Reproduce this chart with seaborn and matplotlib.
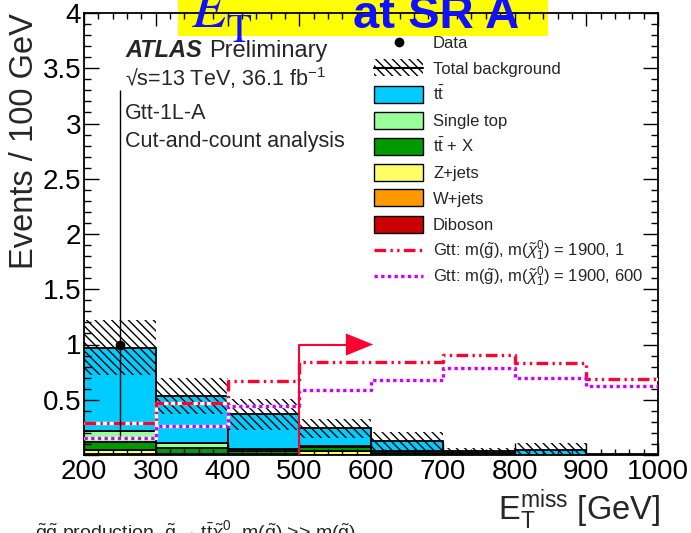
import numpy as np
import pandas as pd
import matplotlib
matplotlib.use("Agg")
import matplotlib.pyplot as plt
import seaborn as sns
from matplotlib.patches import Rectangle
from matplotlib.lines import Line2D
from matplotlib.ticker import MultipleLocator, FuncFormatter

# ---------------- data ----------------
bin_edges = [200, 300, 400, 500, 600, 700, 800, 900, 1000]
process_names = ["ttbar", "Single top", "ttX", "Z+jets", "W+jets", "Diboson"]  # top -> bottom of stack
process_labels = [r"t$\bar{\mathrm{t}}$", "Single top", r"t$\bar{\mathrm{t}}$ + X", "Z+jets", "W+jets", "Diboson"]
process_colors = ["#00CCFF", "#99FF99", "#009900", "#FFFF66", "#FF9900", "#CC0000"]

ttbar      = [0.750, 0.423, 0.320, 0.160, 0.087, 0.025, 0.042, 0.004]
single_top = [0.100, 0.045, 0.015, 0.005, 0.025, 0.005, 0.002, 0.000]
ttX        = [0.075, 0.056, 0.025, 0.039, 0.015, 0.010, 0.001, 0.001]
zjets      = [0.040, 0.010, 0.010, 0.036, 0.000, 0.000, 0.000, 0.000]
wjets      = [0.005, 0.000, 0.000, 0.000, 0.000, 0.000, 0.000, 0.000]
diboson    = [0.000, 0.000, 0.000, 0.000, 0.000, 0.000, 0.000, 0.000]
bkg_unc    = [0.25, 0.16, 0.14, 0.085, 0.083, 0.02, 0.06, 0.005]

sig_1900_1   = [0.29, 0.47, 0.67, 0.84, 0.84, 0.905, 0.83, 0.69]
sig_1900_600 = [0.15, 0.265, 0.44, 0.59, 0.68, 0.785, 0.70, 0.62]
sig_labels = [r"Gtt: m($\tilde{\mathrm{g}}$), m($\tilde{\chi}^{0}_{1}$) = 1900, 1",
              r"Gtt: m($\tilde{\mathrm{g}}$), m($\tilde{\chi}^{0}_{1}$) = 1900, 600"]

data_x = [250]
data_y = [1.0]
data_err_lo = [0.827]
data_err_hi = [2.30]

cut_value = 500
arrow_height = 1.0

# ---------------- style ----------------
sns.set_theme(style="ticks")
FONT = ["Liberation Sans", "DejaVu Sans"]
plt.rcParams["font.family"] = FONT
plt.rcParams["mathtext.fontset"] = "custom"
plt.rcParams["mathtext.rm"] = "Liberation Sans"
plt.rcParams["mathtext.it"] = "Liberation Sans:italic"
plt.rcParams["mathtext.bf"] = "Liberation Sans:bold"
plt.rcParams["mathtext.sf"] = "Liberation Sans"
plt.rcParams["hatch.linewidth"] = 1.0
HATCH = r"\\\\"
RED = "#FF0033"
MAG = "#CC00FF"
RED_LS = (0, (3.5, 1.3, 0.7, 1.3, 0.7, 1.3))
MAG_LS = (0, (1.0, 1.0))

W, H = 691, 533
fig = plt.figure(figsize=(W / 100, H / 100), dpi=100)
ax = fig.add_axes([84 / W, 1 - 455 / H, (658 - 84) / W, (455 - 13) / H])
ax.patch.set_alpha(0)


def fx(px):
    return px / W


def fy(py):
    return 1 - py / H


# yellow title box (behind axes frame)
fig.patches.append(Rectangle((fx(178), fy(36)), (548 - 178) / W, 36 / H,
                             transform=fig.transFigure, facecolor="#FFFF00",
                             edgecolor="none", zorder=-5))

# ---------------- stacked background ----------------
edges = np.array(bin_edges, dtype=float)
centers = 0.5 * (edges[:-1] + edges[1:])
comp = {"ttbar": ttbar, "Single top": single_top, "ttX": ttX,
        "Z+jets": zjets, "W+jets": wjets, "Diboson": diboson}
rows = []
for p in process_names:
    for c, v in zip(centers, comp[p]):
        rows.append({"x": c, "w": v, "process": p})
df = pd.DataFrame(rows)
sns.histplot(data=df, x="x", weights="w", hue="process", hue_order=process_names,
             multiple="stack", bins=bin_edges, palette=dict(zip(process_names, process_colors)),
             edgecolor="black", linewidth=1.3, alpha=1, legend=False, ax=ax, zorder=1)

total = np.sum([comp[p] for p in process_names], axis=0)
unc = np.array(bkg_unc)
ax.bar(centers, 2 * unc, bottom=total - unc, width=np.diff(edges), align="center",
       facecolor="none", edgecolor="black", hatch=HATCH, linewidth=0, zorder=3)

# ---------------- signals ----------------
sig_x = list(edges)
for vals, col, ls in [(sig_1900_1, RED, RED_LS), (sig_1900_600, MAG, MAG_LS)]:
    yv = list(vals) + [vals[-1]]
    sns.lineplot(x=sig_x, y=yv, drawstyle="steps-post", color="white", linewidth=2.4,
                 ax=ax, zorder=4)
    sns.lineplot(x=sig_x, y=yv, drawstyle="steps-post", color=col, linewidth=2.4,
                 linestyle=ls, ax=ax, zorder=5)

# ---------------- data ----------------
ax.errorbar(data_x, data_y, yerr=[data_err_lo, data_err_hi], fmt="o", color="black",
            ms=6, elinewidth=1.0, capsize=0, zorder=6)

# ---------------- cut arrow ----------------
ax.plot([cut_value, cut_value, cut_value + 65], [0, arrow_height, arrow_height],
        color=RED, lw=1.5, zorder=6)
ax.fill([cut_value + 65, cut_value + 103, cut_value + 65],
        [arrow_height + 0.1, arrow_height, arrow_height - 0.1],
        color=RED, lw=0, zorder=6)

# ---------------- axes ----------------
ax.set_xlim(200, 1000)
ax.set_ylim(0, 4)
ax.xaxis.set_major_locator(MultipleLocator(100))
ax.xaxis.set_minor_locator(MultipleLocator(20))
ax.yaxis.set_major_locator(MultipleLocator(0.5))
ax.yaxis.set_minor_locator(MultipleLocator(0.1))
ax.yaxis.set_major_formatter(FuncFormatter(lambda v, p: "" if abs(v) < 1e-9 else f"{v:g}"))
ax.tick_params(which="both", direction="in", top=True, right=True, width=1.0,
               colors="black", labelsize=20)
ax.tick_params(axis="x", which="major", length=9, pad=3)
ax.tick_params(axis="x", which="minor", length=4.5)
ax.tick_params(axis="y", which="major", length=10.5, pad=2)
ax.tick_params(axis="y", which="minor", length=5)
ax.set_axisbelow(False)
for s in ax.spines.values():
    s.set_linewidth(1.3)
    s.set_color("black")
ax.set_xlabel("")
ax.set_ylabel("")

fig.text(fx(25), fy(13), "Events / 100 GeV", rotation=90, ha="center", va="top",
         fontsize=23.5)
fig.text(fx(660), fy(520), r"E$_{\mathrm{T}}^{\mathrm{miss}}$ [GeV]", ha="right",
         va="baseline", fontsize=23.5)

# ---------------- labels ----------------
fig.text(fx(125), fy(57), "ATLAS", fontsize=17, fontweight="bold", fontstyle="italic")
fig.text(fx(209), fy(57), "Preliminary", fontsize=17)
fig.text(fx(125), fy(86), r"√s=13 TeV, 36.1 fb$^{\mathrm{-1}}$", fontsize=15.5)
fig.text(fx(125), fy(119), "Gtt-1L-A", fontsize=15.5)
fig.text(fx(125), fy(147), "Cut-and-count analysis", fontsize=15.5)

# title (its upper part lies above the canvas, as in the reference)
fig.text(fx(191), fy(27), r"$E_\mathrm{T}^{\;}$", fontsize=42,
         color="#1010FF", math_fontfamily="stix", va="baseline")
fig.text(fx(240), fy(-3), "miss", fontsize=28, color="#1010FF",
         fontfamily="STIXGeneral", va="baseline")
fig.text(fx(353), fy(28), "at SR A", fontsize=34, color="#1010FF",
         fontweight="bold", va="baseline")

fig.text(fx(35), fy(538),
         r"$\tilde{\mathrm{g}}\tilde{\mathrm{g}}$ production, $\tilde{\mathrm{g}}\rightarrow \mathrm{t}\bar{\mathrm{t}}\tilde{\chi}^{0}_{1}$, m($\tilde{\mathrm{q}}$) >> m($\tilde{\mathrm{g}}$)",
         fontsize=14, va="baseline")

# ---------------- legend (drawn manually in figure pixels) ----------------
LX0, LX1, TX = 374, 423, 433
row_y = [42 + 26 * i for i in range(10)]
legend_labels = ["Data", "Total background"] + process_labels + sig_labels


def leg_text(i, s):
    fig.text(fx(TX), fy(row_y[i] + 6), s, fontsize=12, va="baseline")


# Data
fig.add_artist(Line2D([fx(398.5)], [fy(row_y[0])], marker="o", color="black",
                      linestyle="none", ms=6, transform=fig.transFigure))
# Total background
fig.add_artist(Rectangle((fx(LX0), fy(row_y[1] + 8.5)), (LX1 - LX0) / W, 17 / H,
                         transform=fig.transFigure, facecolor="none", edgecolor="black",
                         hatch=HATCH, linewidth=0))
fig.add_artist(Line2D([fx(LX0), fx(LX1)], [fy(row_y[1])] * 2, color="black", lw=1.5,
                      transform=fig.transFigure))
# processes
for k, c in enumerate(process_colors):
    yc = row_y[2 + k]
    fig.add_artist(Rectangle((fx(LX0), fy(yc + 8.5)), (LX1 - LX0) / W, 17 / H,
                             transform=fig.transFigure, facecolor=c, edgecolor="black",
                             linewidth=1.0))
# signals
for k, (col, ls) in enumerate([(RED, RED_LS), (MAG, MAG_LS)]):
    yc = row_y[8 + k]
    fig.add_artist(Line2D([fx(LX0), fx(LX1)], [fy(yc)] * 2, color=col, lw=2.4,
                          linestyle=ls, transform=fig.transFigure))
for i, s in enumerate(legend_labels):
    leg_text(i, s)

fig.savefig("out.png", dpi=100)
